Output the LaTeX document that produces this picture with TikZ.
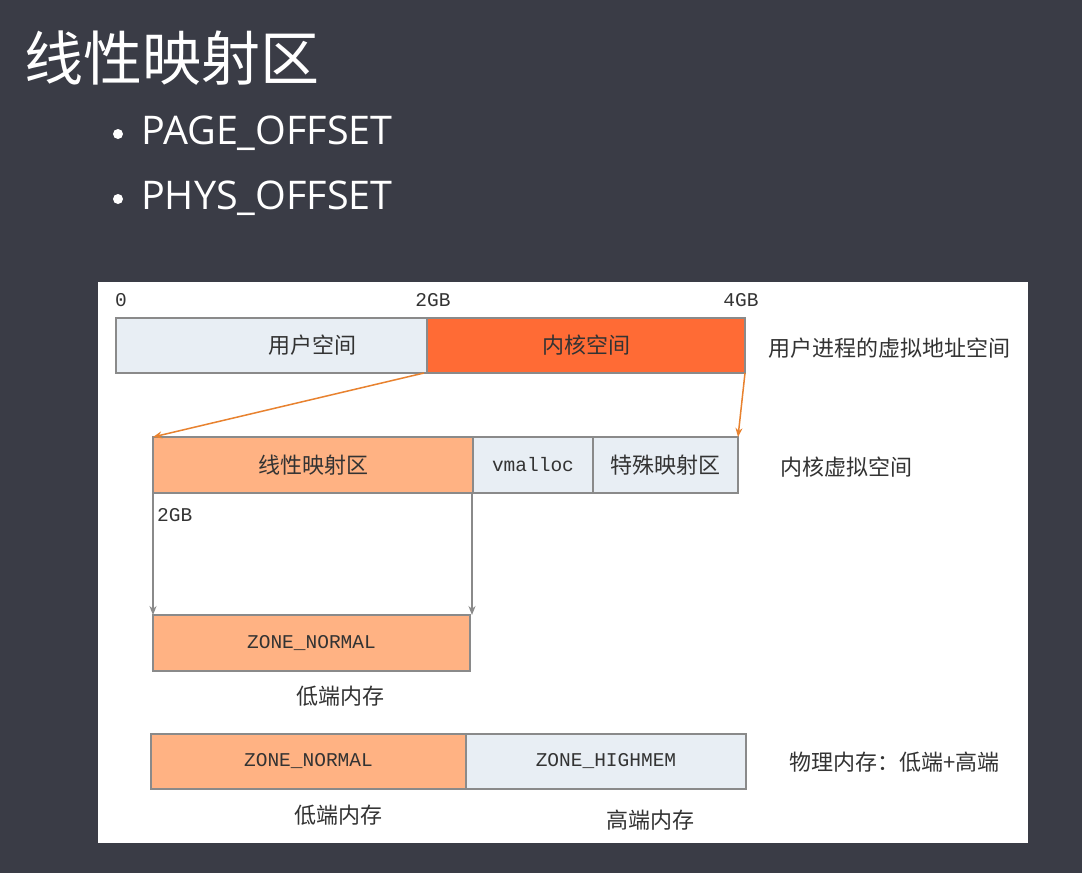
\documentclass[tikz,border=0pt]{standalone}
\usepackage{fontspec}
\setmainfont{Open Sans}
\newfontfamily\cjk{Noto Sans CJK SC}
\newfontfamily\monof{Liberation Mono}
\usetikzlibrary{arrows.meta}
\definecolor{bgc}{HTML}{3A3C46}
\definecolor{lightc}{HTML}{E8EEF4}
\definecolor{kernc}{HTML}{FF6B35}
\definecolor{salmc}{HTML}{FFB283}
\definecolor{arrc}{HTML}{E8822F}
\definecolor{bordc}{HTML}{8A8A8A}
\definecolor{txtc}{HTML}{333333}
\newcommand{\cjkfont}{\cjk\fontsize{22}{26}\selectfont}
\newcommand{\monofont}{\monof\fontsize{19.5}{22}\selectfont}
\tikzset{
  membox/.style={draw=bordc, line width=1.2pt, inner sep=0pt, outer sep=0pt, text=txtc},
  cjklab/.style={font=\cjkfont, text=txtc, inner sep=0pt},
  monolab/.style={font=\monofont, text=txtc, inner sep=0pt},
  maparrow/.style={draw=arrc, line width=1.5pt, -{Stealth[length=9pt,width=7pt]}},
  zonearrow/.style={draw=bordc, line width=1.2pt, -{Stealth[length=9pt,width=7pt]}},
  bulletdot/.style={circle, fill=white, minimum size=10pt, inner sep=0pt},
}
\begin{document}
\begin{tikzpicture}[x=1pt,y=-1pt]
\fill[bgc] (0,0) rectangle (1082,873);
\useasboundingbox (0,0) rectangle (1082,873);
% title and bullets
\node[anchor=west, text=white, font=\cjk\fontsize{59}{62}\selectfont, inner sep=0pt] (title) at (24,58) {线性映射区};
\node[bulletdot] (b1) at (118,134) {};
\node[anchor=west, text=white, font=\fontsize{39.5}{42}\selectfont, inner sep=0pt] (t1) at (141,133) {PAGE\_OFFSET};
\node[bulletdot] (b2) at (118,199) {};
\node[anchor=west, text=white, font=\fontsize{39.5}{42}\selectfont, inner sep=0pt] (t2) at (141,198) {PHYS\_OFFSET};
% panel
\fill[white] (98,282) rectangle (1028,843);
% row 1
\node[membox, fill=lightc, minimum width=311pt, minimum height=55pt] (user) at (271.5,345.5) {};
\node[cjklab] (usertxt) at (312,345) {用户空间};
\node[membox, fill=kernc, minimum width=318pt, minimum height=55pt, font=\cjkfont] (kern) at (586,345.5) {内核空间};
\node[monolab] (l0) at (121,300) {0};
\node[monolab] (l2) at (433,300) {2GB};
\node[monolab] (l4) at (741,300) {4GB};
\node[cjklab, anchor=west] (uvas) at (768,348) {用户进程的虚拟地址空间};
% row 2
\node[membox, fill=salmc, minimum width=320pt, minimum height=56pt, font=\cjkfont] (lin) at (313,465) {线性映射区};
\node[membox, fill=lightc, minimum width=120pt, minimum height=56pt, font=\monofont] (vm) at (533,465) {vmalloc};
\node[membox, fill=lightc, minimum width=145pt, minimum height=56pt, font=\cjkfont] (spec) at (665.5,465) {特殊映射区};
\node[cjklab, anchor=west] (kvs) at (780,467) {内核虚拟空间};
% arrows from kernel space
\coordinate (ka) at ([xshift=-3pt]kern.south west);
\draw[maparrow] (ka) -- (lin.north west);
\draw[maparrow] (kern.south east) -- (spec.north east);
% row 3
\node[membox, fill=salmc, minimum width=317pt, minimum height=56pt, font=\monofont] (zn1) at (311.5,643) {ZONE\_NORMAL};
\node[monolab, anchor=west] (g2) at (157,515) {2GB};
\draw[zonearrow] (lin.south west) -- (lin.south west |- zn1.north);
\coordinate (lse) at ([xshift=-1pt]lin.south east);
\draw[zonearrow] (lse) -- (lse |- zn1.north);
\node[cjklab] (low1) at (340,696) {低端内存};
% row 4
\node[membox, fill=salmc, minimum width=315pt, minimum height=55pt, font=\monofont] (zn2) at (308.5,761.5) {ZONE\_NORMAL};
\node[membox, fill=lightc, minimum width=280pt, minimum height=55pt, font=\monofont] (zh) at (606,761.5) {ZONE\_HIGHMEM};
\node[cjklab, anchor=west] (phys) at (789,762) {物理内存：低端+高端};
\node[cjklab] (low2) at (338,815) {低端内存};
\node[cjklab] (high) at (650,820) {高端内存};
\end{tikzpicture}
\end{document}
